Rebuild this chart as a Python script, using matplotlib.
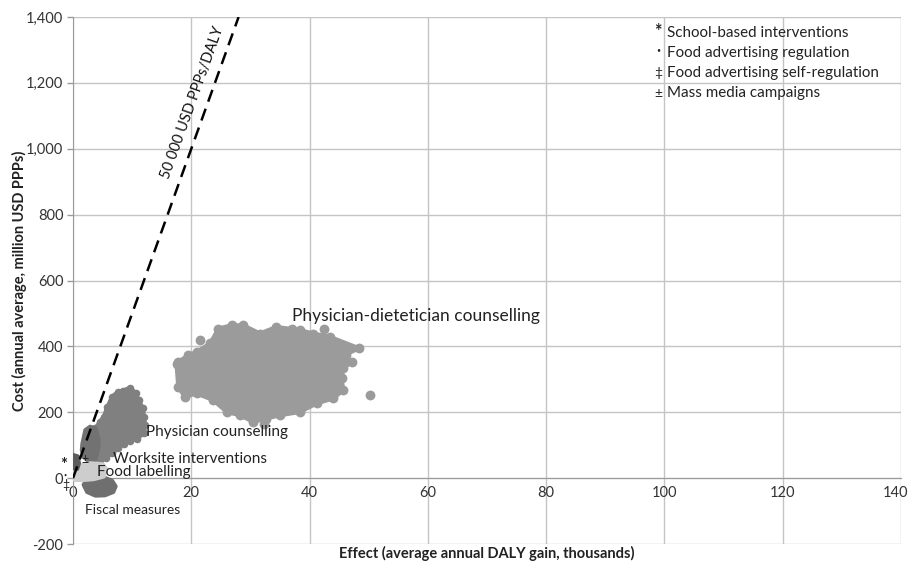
import matplotlib
matplotlib.use("Agg")
import matplotlib.pyplot as plt
from matplotlib.ticker import FuncFormatter
from matplotlib.transforms import ScaledTranslation

plt.rcParams["font.family"] = ["Lato", "DejaVu Sans"]
plt.rcParams["axes.unicode_minus"] = False

# Simulated cost-effectiveness clouds: outline points (DALY thousands, cost million USD PPPs)
dietetician_x = [17.5, 17.8, 18.9, 20.9, 23.7, 26.0, 28.2, 30.5, 32.7, 35.0, 38.4, 41.2, 44.0, 45.7,
                 45.4, 45.7, 47.1, 45.1, 48.4, 43.4, 40.6, 38.4, 34.4, 31.6, 28.8, 26.8, 24.6, 23.2,
                 20.9, 19.5, 17.8]
dietetician_y = [348, 277, 247, 257, 237, 201, 191, 171, 181, 191, 201, 227, 242, 267,
                 303, 333, 353, 368, 394, 429, 439, 449, 459, 439, 464, 464, 454, 409,
                 383, 373, 353]
dietetician_out_x = [50.2, 37.0, 32.3, 42.5, 21.5, 46.2]
dietetician_out_y = [252, 452, 165, 452, 420, 375]

physician_x = [9.7, 10.6, 11.1, 11.8, 12.0, 12.2, 12.0, 10.8, 9.6, 8.6, 7.6, 6.6, 5.6, 4.6,
               3.8, 4.5, 5.2, 5.8, 6.6, 7.6, 8.4]
physician_y = [274, 258, 237, 212, 186, 160, 136, 120, 112, 105, 90, 75, 62, 55,
               151, 170, 186, 215, 247, 262, 266]

worksite_x = [2.9, 3.8, 4.3, 4.3, 3.8, 2.6, 1.8, 1.5, 1.6, 2.1]
worksite_y = [156, 151, 120, 95, 55, 52, 65, 85, 105, 146]

school_x = [0.0, 0.8, 1.0, 0.7, 0.1, -0.2]
school_y = [70, 66, 45, 28, 30, 50]

labelling_x = [0.3, 0.3, 1.5, 3.0, 5.0, 5.6, 5.2, 3.5, 1.5]
labelling_y = [-5, 25, 40, 45, 42, 28, 5, -3, -6]

fiscal_x = [1.8, 2.4, 3.6, 5.2, 6.6, 7.2, 6.8, 5.4, 3.8, 2.4]
fiscal_y = [-20, -5, 2, 2, -8, -25, -42, -52, -53, -42]

# Willingness-to-pay threshold: 50 000 USD PPPs per DALY
threshold_x = [0, 28]
threshold_cost_per_daly = 50

x_ticks = [0, 20, 40, 60, 80, 100, 120, 140]
y_ticks = [-200, 0, 200, 400, 600, 800, 1000, 1200, 1400]

legend_symbols = ["*", "•", "‡", "±"]
legend_labels = ["School-based interventions", "Food advertising regulation",
                 "Food advertising self-regulation", "Mass media campaigns"]
legend_y = [1351, 1290, 1229, 1168]

fig = plt.figure(figsize=(9.11, 5.64), dpi=100)
ax = fig.add_axes([73 / 911, 20 / 564, 828 / 911, 527 / 564])

ax.set_xlim(0, 140)
ax.set_ylim(-200, 1400)
ax.set_xticks(x_ticks)
ax.set_yticks(y_ticks)
ax.yaxis.set_major_formatter(FuncFormatter(lambda v, p: f"{v:,.0f}"))
ax.grid(True, color="#c4c4c4", linewidth=1.0)
ax.set_axisbelow(True)

for side in ("top", "right"):
    ax.spines[side].set_visible(False)
ax.spines["bottom"].set_position(("data", 0))
ax.spines["bottom"].set_color("#9a9a9a")
ax.spines["left"].set_color("#9a9a9a")
ax.tick_params(axis="x", length=0, pad=6, labelsize=10.5, colors="#333333")
ax.tick_params(axis="y", length=4, width=1, color="#9a9a9a", pad=3, labelsize=10.5,
               labelcolor="#333333")
last = ax.get_xticklabels()[-1]
last.set_transform(last.get_transform() + ScaledTranslation(-0.05, 0, fig.dpi_scale_trans))


def cloud(xs, ys, color, size, z):
    ax.fill(xs, ys, color=color, linewidth=3, edgecolor=color, joinstyle="round", zorder=z)
    if size:
        ax.scatter(xs, ys, s=size, color=color, linewidths=0, zorder=z)


cloud(dietetician_x, dietetician_y, "#9b9b9b", 50, 2)
ax.scatter(dietetician_out_x, dietetician_out_y, s=50, color="#9b9b9b", linewidths=0, zorder=2)
cloud(physician_x, physician_y, "#808080", 30, 3)
cloud(worksite_x, worksite_y, "#727272", 0, 4)
cloud(fiscal_x, fiscal_y, "#6f6f6f", 0, 4)
cloud(labelling_x, labelling_y, "#cdcdcd", 0, 5)
cloud(school_x, school_y, "#5c5c5c", 0, 6)

ax.plot(threshold_x, [v * threshold_cost_per_daly for v in threshold_x], color="black",
        linestyle=(0, (5, 3)), linewidth=1.8, zorder=7)
ax.text(20.2, 1140, "50 000 USD PPPs/DALY", rotation=70.2, rotation_mode="anchor",
        ha="center", va="center", fontsize=10.5, color="#111111", zorder=8)

label_kw = dict(color="#222222", va="center", zorder=8)
ax.text(37.0, 492, "Physician-dietetician counselling", fontsize=12.5, **label_kw)
ax.text(12.3, 140, "Physician counselling", fontsize=11, **label_kw)
ax.text(6.8, 58, "Worksite interventions", fontsize=11, **label_kw)
ax.text(4.1, 18, "Food labelling", fontsize=11, **label_kw)
ax.text(2.0, -97, "Fiscal measures", fontsize=10, **label_kw)
ax.text(2.1, 57, "±", fontsize=9, color="#222222", ha="center", va="center", zorder=8)

sym_kw = dict(color="#222222", ha="center", va="center", clip_on=False, zorder=8)
ax.text(-1.6, 40, "*", fontsize=12, fontweight="bold", **sym_kw)
ax.text(-1.4, 8, "•", fontsize=4, **sym_kw)
ax.text(-1.2, -22, "‡", fontsize=9, **sym_kw)

legend_sizes = {"*": 13, "•": 5, "‡": 10, "±": 10}
legend_shift = {"*": 4, "•": 12, "‡": 0, "±": 0}
for sym, lab, yy in zip(legend_symbols, legend_labels, legend_y):
    ax.text(98.9, yy + legend_shift[sym], sym, fontsize=legend_sizes[sym], ha="center",
            va="center", color="#222222", fontweight="bold" if sym == "*" else "normal")
    ax.text(100.4, yy, lab, fontsize=10.9, va="center", color="#222222")

ax.set_xlabel("Effect (average annual DALY gain, thousands)", fontsize=10.5,
              fontweight="bold", color="#222222")
ax.set_ylabel("Cost (annual average, million USD PPPs)", fontsize=10.5,
              fontweight="bold", color="#222222")
ax.xaxis.set_label_coords(0.5, -0.004)
ax.yaxis.set_label_coords(-0.056, 0.5)

fig.savefig("out.png", dpi=100)
